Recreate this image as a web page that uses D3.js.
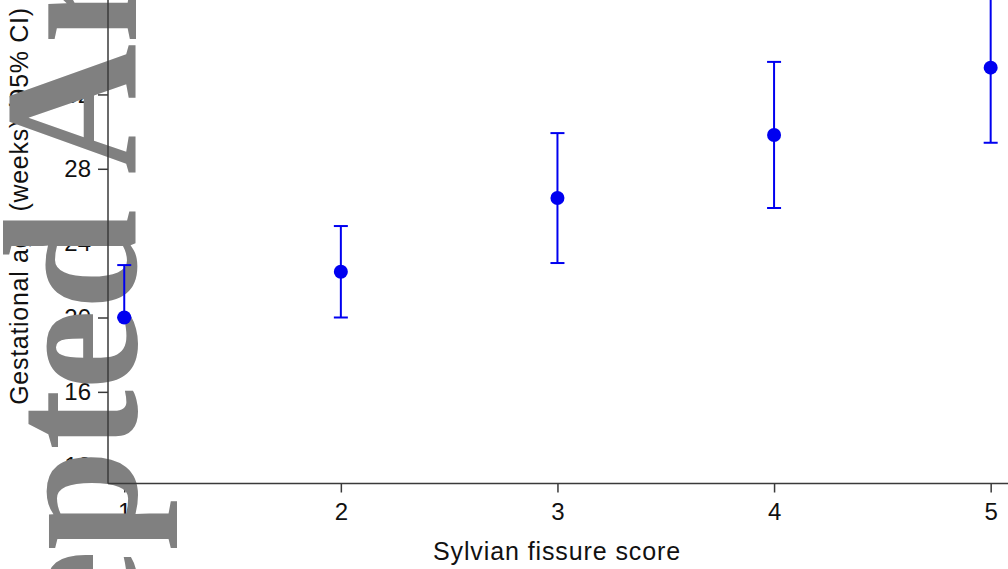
<!DOCTYPE html>
<html>
<head>
<meta charset="utf-8">
<script src="https://cdn.jsdelivr.net/npm/d3@7"></script>
<style>
  html, body { margin: 0; padding: 0; background: #fff; }
  svg { display: block; }
  text { font-family: "Liberation Sans", Arial, Helvetica, sans-serif; }
</style>
</head>
<body>
<svg width="1008" height="569"></svg>
<script>
// Sylvian fissure score vs gestational age, mean with 95% CI
var scores = [1, 2, 3, 4, 5];
var means = [20.0, 22.46, 26.43, 29.82, 33.44];
var lowerCI = [20.0, 20.0, 22.93, 25.89, 29.40];
var upperCI = [22.82, 24.92, 29.92, 33.75, 37.48];
var yTicks = [12, 16, 20, 24, 28, 32, 36];
var xTicks = [1, 2, 3, 4, 5];
var xTitle = 'Sylvian fissure score';
var yTitle = 'Gestational age (weeks) (95% CI)';
var watermark = 'Accepted Article';

var data = scores.map(function (s, i) {
  return { score: s, mean: means[i], lo: lowerCI[i], hi: upperCI[i] };
});

var svg = d3.select('svg');
var blue = '#0000f0';
var axisColor = '#3a3a3a';

var x = d3.scaleLinear().domain([0.925, 5.08]).range([108, 1008]);
var y = d3.scaleLinear().domain([11.07, 37.08]).range([483.5, 0]);

// ticks and labels (sit under the watermark)
var xAxis = svg.append('g')
  .attr('transform', 'translate(0,' + y.range()[0] + ')')
  .call(d3.axisBottom(x).tickValues(xTicks).tickFormat(d3.format('d'))
    .tickSize(9).tickPadding(10));
var yAxis = svg.append('g')
  .attr('transform', 'translate(' + x.range()[0] + ',0)')
  .call(d3.axisLeft(y).tickValues(yTicks).tickSize(10).tickPadding(7));

[xAxis, yAxis].forEach(function (g) {
  g.select('.domain').remove();
  g.selectAll('line').attr('stroke', axisColor).attr('stroke-width', 1.5);
  g.selectAll('text').attr('fill', '#111').style('font-size', '24px')
    .style('font-family', '"Liberation Sans", Arial, sans-serif');
});

svg.append('text')
  .attr('x', 557).attr('y', 560)
  .attr('text-anchor', 'middle')
  .style('font-size', '25px').style('letter-spacing', '0.9px')
  .attr('fill', '#111')
  .text(xTitle);

svg.append('text')
  .attr('transform', 'translate(28,206) rotate(-90)')
  .attr('text-anchor', 'middle')
  .style('font-size', '25px').style('letter-spacing', '0.7px')
  .attr('fill', '#111')
  .text(yTitle);

// journal watermark, bold serif running bottom to top
svg.append('text')
  .attr('transform', 'translate(136,921) rotate(-90) scale(0.95,1)')
  .style('font-family', '"Liberation Serif", "Times New Roman", serif')
  .style('font-weight', 'bold')
  .style('font-size', '190px')
  .attr('fill', '#808080')
  .text(watermark);

// axis lines on top
svg.append('line')
  .attr('x1', x.range()[0]).attr('x2', x.range()[1])
  .attr('y1', y.range()[0]).attr('y2', y.range()[0])
  .attr('stroke', axisColor).attr('stroke-width', 1.5);
svg.append('line')
  .attr('x1', x.range()[0]).attr('x2', x.range()[0])
  .attr('y1', y.range()[0]).attr('y2', 0)
  .attr('stroke', axisColor).attr('stroke-width', 1.5);

// error bars
var bars = svg.append('g').attr('class', 'bars')
  .selectAll('g').data(data).enter().append('g')
  .attr('stroke', blue).attr('stroke-width', 2);

bars.append('line')
  .attr('x1', function (d) { return x(d.score); })
  .attr('x2', function (d) { return x(d.score); })
  .attr('y1', function (d) { return y(d.lo); })
  .attr('y2', function (d) { return y(d.hi); });

bars.append('line')
  .attr('x1', function (d) { return x(d.score) - 7; })
  .attr('x2', function (d) { return x(d.score) + 7; })
  .attr('y1', function (d) { return y(d.hi); })
  .attr('y2', function (d) { return y(d.hi); });

bars.append('line')
  .attr('x1', function (d) { return x(d.score) - 7; })
  .attr('x2', function (d) { return x(d.score) + 7; })
  .attr('y1', function (d) { return y(d.lo); })
  .attr('y2', function (d) { return y(d.lo); });

// means
svg.append('g').attr('class', 'circles')
  .selectAll('circle').data(data).enter().append('circle')
  .attr('cx', function (d) { return x(d.score); })
  .attr('cy', function (d) { return y(d.mean); })
  .attr('r', 7)
  .attr('fill', blue);
</script>
</body>
</html>
